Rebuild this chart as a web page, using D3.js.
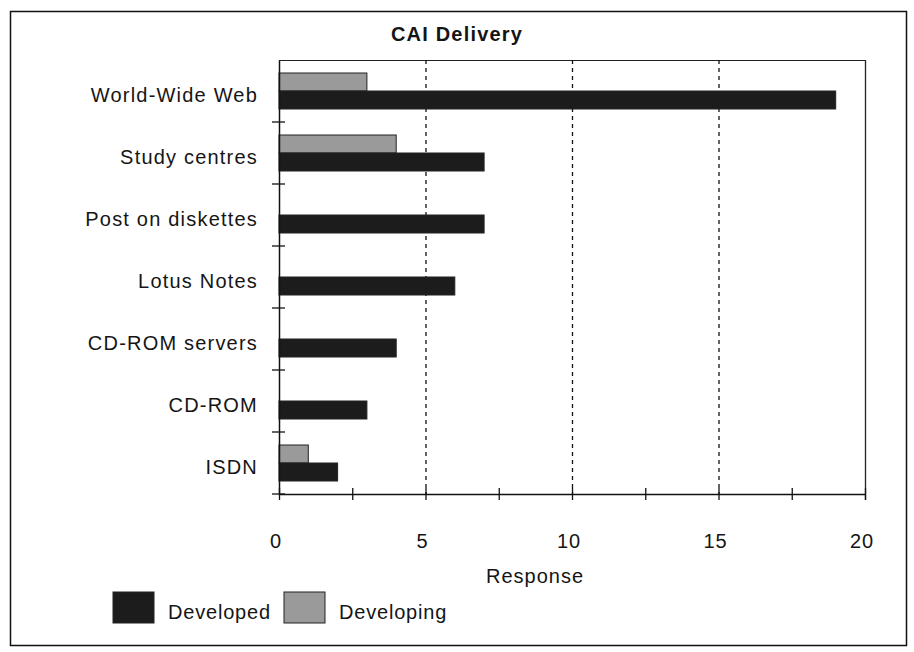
<!DOCTYPE html>
<html><head><meta charset="utf-8">
<script src="https://cdn.jsdelivr.net/npm/d3@7"></script>
<style>body{margin:0;background:#fff}svg{display:block}text{font-family:"Liberation Sans",Arial,sans-serif;fill:#151515}</style>
</head><body><svg id="c" width="914" height="652"></svg>
<script>
const categories = ["World-Wide Web","Study centres","Post on diskettes","Lotus Notes","CD-ROM servers","CD-ROM","ISDN"];
const developed = [19,7,7,6,4,3,2];
const developing = [3,4,0,0,0,0,1];
const xTicks = [0,5,10,15,20];
const seriesNames = ["Developed","Developing"];
const colors = {Developed:"#1c1c1c", Developing:"#9a9a9a"};

const svg = d3.select("#c");
svg.append("rect").attr("x",10.5).attr("y",11.5).attr("width",896).attr("height",634)
  .attr("fill","#fff").attr("stroke","#111").attr("stroke-width",1.5);

const m = {l:279, r:865, t:60, b:494};
const x = d3.scaleLinear().domain([0,20]).range([m.l,m.r]);
const y = d3.scaleBand().domain(categories).range([m.t,m.b]);
const inner = d3.scaleBand().domain(["Developing","Developed"]).range([13,49]);

svg.append("line").attr("x1",m.l).attr("x2",m.r).attr("y1",m.t+0.5).attr("y2",m.t+0.5).attr("stroke","#222");
svg.append("line").attr("x1",m.r+0.5).attr("x2",m.r+0.5).attr("y1",m.t).attr("y2",m.b+6).attr("stroke","#222").attr("stroke-width",1.3);
svg.selectAll(".grid").data([5,10,15]).join("line")
  .attr("x1",d=>x(d)+0.5).attr("x2",d=>x(d)+0.5).attr("y1",m.t).attr("y2",m.b)
  .attr("stroke","#111").attr("stroke-width",1.3).attr("stroke-dasharray","4,4");

const rows = categories.map((c,i)=>({c, Developed:developed[i], Developing:developing[i]}));
const g = svg.append("g");
rows.forEach(r=>{
  ["Developing","Developed"].forEach(s=>{
    if(r[s]>0){
      g.append("rect").attr("x",x(0)).attr("y",y(r.c)+inner(s))
        .attr("width",x(r[s])-x(0)).attr("height",inner.bandwidth())
        .attr("fill",colors[s]).attr("stroke","#222").attr("stroke-width",1);
    }
  });
});

const xa = svg.append("g").attr("transform",`translate(0,${m.b})`)
  .call(d3.axisBottom(x).tickValues(d3.range(0,20.1,2.5)).tickFormat("").tickSize(6).tickSizeOuter(0));
xa.select(".domain").attr("stroke","#111").attr("stroke-width",1.3);
xa.selectAll(".tick line").attr("y1",-6).attr("y2",6).attr("stroke","#111").attr("stroke-width",1.3);
svg.append("g").selectAll("text").data(xTicks).join("text")
  .attr("x",d=>x(d)-3).attr("y",m.b+54).attr("text-anchor","middle").attr("font-size",20)
  .attr("letter-spacing",1).text(d=>d);

const ya = svg.append("g").attr("transform",`translate(${m.l},0)`)
  .call(d3.axisLeft(y).tickSize(0).tickFormat(""));
ya.select(".domain").attr("stroke","#111").attr("stroke-width",1.5);
const bounds = categories.map(c=>y(c)).concat([m.b]);
svg.append("g").selectAll("line").data(bounds.slice(1)).join("line")
  .attr("x1",m.l-7).attr("x2",m.l+6).attr("y1",d=>d).attr("y2",d=>d).attr("stroke","#111").attr("stroke-width",1.3);
svg.append("g").selectAll("text").data(categories).join("text")
  .attr("x",258).attr("y",c=>y(c)+y.bandwidth()/2+4).attr("dy","0.35em")
  .attr("text-anchor","end").attr("font-size",20).attr("letter-spacing",1.2).text(c=>c);

svg.append("text").attr("x",457).attr("y",41).attr("text-anchor","middle")
  .attr("font-size",20).attr("font-weight","bold").attr("letter-spacing",1.2).text("CAI Delivery");
svg.append("text").attr("x",535).attr("y",583).attr("text-anchor","middle").attr("font-size",20)
  .attr("letter-spacing",1).text("Response");

const lx = [113,284];
seriesNames.forEach((s,i)=>{
  svg.append("rect").attr("x",lx[i]).attr("y",592).attr("width",41).attr("height",31)
    .attr("fill",colors[s]).attr("stroke","#222");
  svg.append("text").attr("x",lx[i]+55).attr("y",619).attr("font-size",20)
    .attr("letter-spacing",0.8).text(s);
});
</script></body></html>
